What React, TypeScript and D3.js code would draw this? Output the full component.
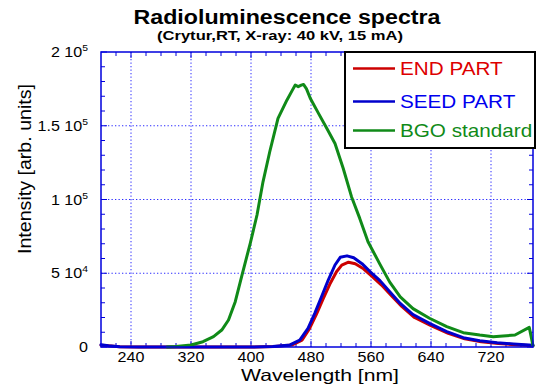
import React from "react";
import * as d3 from "d3";

const W = 536;
const H = 384;

// BGO standard (green)
const bgoWl = [288, 300, 320, 336, 350, 361, 370, 379, 388, 399, 408, 416, 425, 436, 448, 455, 459, 463, 467, 470, 474, 479, 490, 501, 512, 523, 534, 545, 556, 572, 585, 599, 616, 638, 661, 683, 705, 723, 736, 752, 771, 776];
const bgoVal = [0, 300, 1400, 3600, 7000, 11500, 18300, 30700, 48800, 70300, 89500, 112000, 132400, 155000, 167500, 174000, 177600, 176500, 177500, 178000, 175000, 168600, 158400, 148300, 138000, 121000, 101900, 87200, 71400, 56000, 44000, 34000, 26000, 19500, 13800, 9700, 8100, 7000, 7500, 8100, 13300, 800];

// SEED PART (blue)
const seedWl = [200, 210, 225, 250, 300, 400, 429, 452, 465, 476, 485, 494, 503, 512, 519, 528, 537, 548, 559, 572, 585, 599, 616, 638, 661, 683, 705, 728, 750, 776];
const seedVal = [1500, 800, 200, 0, 0, 0, 300, 1400, 4700, 12700, 22800, 34100, 45400, 55600, 60800, 61800, 60500, 56500, 51000, 45000, 37500, 29500, 22000, 16000, 10400, 6300, 4300, 2900, 2000, 1200];

// END PART (red)
const endWl = [200, 225, 250, 400, 432, 455, 468, 478, 487, 496, 505, 514, 521, 530, 539, 550, 561, 574, 587, 601, 618, 640, 663, 685, 707, 730, 752, 776];
const endVal = [1200, 200, 0, 0, 300, 1400, 4700, 12500, 22000, 32500, 42500, 51000, 55500, 57500, 56500, 53000, 48000, 42000, 35000, 27500, 20000, 14500, 9200, 5500, 3600, 2400, 1600, 900];

const xMajor = [240, 320, 400, 480, 560, 640, 720];
const yMajor = [0, 50000, 100000, 150000, 200000];
const yLabels: [string, string][] = [["0", ""], ["5 10", "4"], ["1 10", "5"], ["1.5 10", "5"], ["2 10", "5"]];

const legendNames = ["END PART", "SEED PART", "BGO standard"];
const lineColors = ["#cc0000", "#0000cc", "#108a18"];
const textColors = ["#dd0000", "#0000ee", "#108a18"];

const FONT = "'Liberation Sans', Arial, sans-serif";
const SX = 1.15;

const L = 101, R = 533, T = 52, B = 347;

function SText({ x, y, anchor = "start", size, sx = SX, weight = "normal", fill = "#000", children }: any) {
  return (
    <g transform={`translate(${x},${y}) scale(${sx},1)`}>
      <text x={0} y={0} textAnchor={anchor} fontSize={size} fontWeight={weight} fill={fill} fontFamily={FONT}>
        {children}
      </text>
    </g>
  );
}

export default function App() {
  const x = d3.scaleLinear().domain([200, 776]).range([L, R]);
  const y = d3.scaleLinear().domain([0, 200000]).range([B, T]);
  const line = d3.line<[number, number]>().x((d) => x(d[0])).y((d) => y(d[1]));

  const series = [
    d3.zip(endWl, endVal) as [number, number][],
    d3.zip(seedWl, seedVal) as [number, number][],
    d3.zip(bgoWl, bgoVal) as [number, number][],
  ];

  const xMinor = d3.range(220, 776, 20).filter((v) => !xMajor.includes(v));
  const yMinor = d3.range(10000, 200000, 10000).filter((v) => v % 50000 !== 0);
  const axisColor = "#0000dd";
  const gridColor = "#2a2aff";

  return (
    <svg width={W} height={H} style={{ position: "absolute", left: 0, top: 0, background: "#fff" }}>
      <rect x={0} y={0} width={W} height={H} fill="#fff" />
      {/* title */}
      <text x={287} y={24} textAnchor="middle" fontSize={20} fontWeight="bold" fontFamily={FONT} textLength={307} lengthAdjust="spacingAndGlyphs">
        Radioluminescence spectra
      </text>
      <text x={280} y={40} textAnchor="middle" fontSize={12.5} fontWeight="bold" fontFamily={FONT} textLength={246} lengthAdjust="spacingAndGlyphs">
        (Crytur,RT, X-ray: 40 kV, 15 mA)
      </text>

      {/* grid */}
      {xMajor.map((v) => (
        <line key={"gx" + v} x1={x(v)} x2={x(v)} y1={T} y2={B} stroke={gridColor} strokeWidth={1} strokeDasharray="1.3,2.2" />
      ))}
      {yMajor.filter((v) => v > 0 && v < 200000).map((v) => (
        <line key={"gy" + v} x1={L} x2={R} y1={y(v)} y2={y(v)} stroke={gridColor} strokeWidth={1} strokeDasharray="1.3,2.2" />
      ))}

      {/* ticks */}
      {xMajor.map((v) => (
        <g key={"tx" + v}>
          <line x1={x(v)} x2={x(v)} y1={B} y2={B - 6} stroke={axisColor} />
          <line x1={x(v)} x2={x(v)} y1={T} y2={T + 6} stroke={axisColor} />
        </g>
      ))}
      {xMinor.map((v) => (
        <g key={"mx" + v}>
          <line x1={x(v)} x2={x(v)} y1={B} y2={B - 4} stroke={axisColor} />
          <line x1={x(v)} x2={x(v)} y1={T} y2={T + 4} stroke={axisColor} />
        </g>
      ))}
      {yMajor.map((v) => (
        <g key={"ty" + v}>
          <line x1={L} x2={L + 6} y1={y(v)} y2={y(v)} stroke={axisColor} />
          <line x1={R} x2={R - 6} y1={y(v)} y2={y(v)} stroke={axisColor} />
        </g>
      ))}
      {yMinor.map((v) => (
        <g key={"my" + v}>
          <line x1={L} x2={L + 4} y1={y(v)} y2={y(v)} stroke={axisColor} />
          <line x1={R} x2={R - 4} y1={y(v)} y2={y(v)} stroke={axisColor} />
        </g>
      ))}

      {/* data */}
      {series.map((s, i) => (
        <path key={"s" + i} d={line(s) || ""} fill="none" stroke={lineColors[i]} strokeWidth={3} strokeLinejoin="round" strokeLinecap="round" />
      ))}

      {/* frame */}
      <rect x={L} y={T} width={R - L} height={B - T} fill="none" stroke={axisColor} strokeWidth={1.5} />

      {/* tick labels */}
      {xMajor.map((v) => (
        <SText key={"lx" + v} x={x(v)} y={361.5} anchor="middle" size={14}>
          {String(v)}
        </SText>
      ))}
      {yMajor.map((v, i) => (
        <SText key={"ly" + v} x={88} y={y(v) + 5} anchor="end" size={14}>
          {yLabels[i][0]}
          {yLabels[i][1] ? (
            <tspan dy={-6} fontSize={9}>
              {yLabels[i][1]}
            </tspan>
          ) : null}
        </SText>
      ))}

      {/* axis titles */}
      <text x={320} y={380.5} textAnchor="middle" fontSize={16.5} fontFamily={FONT} textLength={158} lengthAdjust="spacingAndGlyphs">
        Wavelength [nm]
      </text>
      <text transform="translate(31,169) rotate(-90)" x={0} y={0} textAnchor="middle" fontSize={18} fontFamily={FONT} textLength={170} lengthAdjust="spacingAndGlyphs">
        Intensity [arb. units]
      </text>

      {/* legend */}
      <rect x={345} y={52} width={190} height={96} fill="#fff" stroke="#000" strokeWidth={2} />
      {legendNames.map((n, i) => {
        const ly = [68.5, 101.5, 130.5][i];
        return (
          <g key={"lg" + i}>
            <line x1={353} x2={395} y1={ly} y2={ly} stroke={lineColors[i]} strokeWidth={2.5} />
            <SText x={400} y={ly + 6.5} size={18} fill={textColors[i]}>
              {n}
            </SText>
          </g>
        );
      })}
    </svg>
  );
}
